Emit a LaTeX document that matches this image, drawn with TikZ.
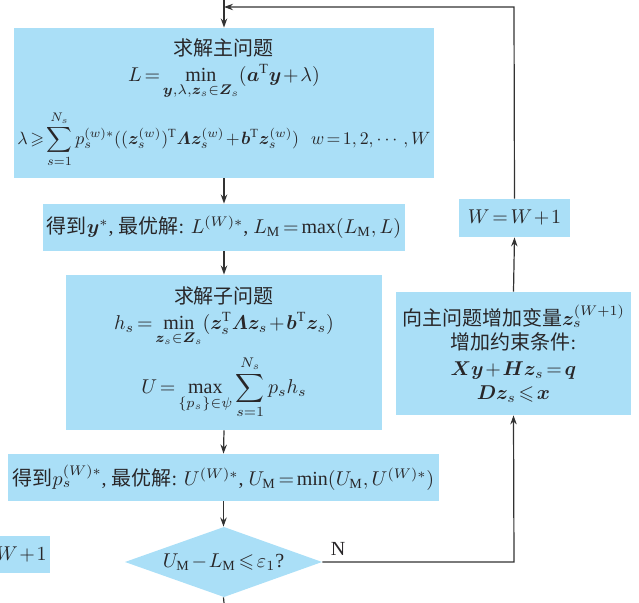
\documentclass[tikz,border=0pt]{standalone}
\usepackage{amsmath,amssymb,bm}
\usepackage{fontspec}
\setmainfont{Liberation Serif}
\newfontfamily\cjk{Noto Sans CJK SC}
\usetikzlibrary{arrows.meta,shapes.geometric}
\newcommand\zh[1]{{\cjk #1}}
\definecolor{boxfill}{RGB}{170,223,247}
\definecolor{ink}{RGB}{40,38,40}
\definecolor{linec}{RGB}{50,50,50}
\tikzset{
  box/.style={rectangle, fill=boxfill, draw=none, inner sep=0pt, align=center, text=ink, font=\fontsize{10}{12}\selectfont},
  anch/.style={rectangle, draw=none, inner sep=0pt, text=ink, font=\fontsize{10}{12}\selectfont},
  arr/.style={draw=linec, line width=0.6pt, -{Stealth[length=4.5pt,width=3.2pt]}},
  ln/.style={draw=linec, line width=0.6pt},
  lbl/.style={text=ink, font=\fontsize{10}{12}\selectfont, inner sep=0pt}
}
\begin{document}
\begin{tikzpicture}[x=0.5pt,y=-0.5pt]
\medmuskip=1.5mu \thickmuskip=2.5mu
\useasboundingbox (0,0) rectangle (639,603);
\clip (0,0) rectangle (639,603);
% boxes
\node[box, minimum width=210pt, minimum height=75pt, text width=208pt] (b1) at (224,103) {%
  \zh{求解主问题}\\[1pt]
  $\displaystyle L=\min_{\bm y,\lambda,\bm z_s\in\bm Z_s}(\bm a^{\mathrm T}\bm y+\lambda)$\\[5pt]
  \scalebox{0.89}{$\displaystyle \lambda\geqslant\sum_{s=1}^{N_s}p_s^{(w)*}((\bm z_s^{(w)})^{\mathrm T}\bm\varLambda\bm z_s^{(w)}+\bm b^{\mathrm T}\bm z_s^{(w)})\ \ w=1,2,\cdots,W$}};
\node[box, minimum width=181pt, minimum height=23.5pt] (b2) at (224,227.5) {%
  \zh{得到}$\bm y^*$, \zh{最优解}: $L^{(W)*}$, $L_{\mathrm M}=\max(L_{\mathrm M},L)$};
\node[box, minimum width=158pt, minimum height=77.5pt] (b3) at (224,352.5) {%
  \zh{求解子问题}\\[1pt]
  $\displaystyle h_s=\min_{\bm z_s\in\bm Z_s}(\bm z_s^{\mathrm T}\bm\varLambda\bm z_s+\bm b^{\mathrm T}\bm z_s)$\\[4pt]
  $\displaystyle U=\max_{\{p_s\}\in\psi}\sum_{s=1}^{N_s}p_sh_s$};
\node[box, minimum width=215.5pt, minimum height=23.5pt] (b4) at (223.5,477.5) {%
  \zh{得到}$p_s^{(W)*}$, \zh{最优解}: $U^{(W)*}$, $U_{\mathrm M}=\min(U_{\mathrm M},U^{(W)*})$};
\fill[boxfill] (125,562) -- (224,527) -- (322,562) -- (224,597) -- cycle;
\node[anch, minimum width=98.5pt, minimum height=35pt] (d) at (223.5,562) {%
  $U_{\mathrm M}-L_{\mathrm M}\leqslant\varepsilon_1$?};
\node[box, minimum width=117.5pt, minimum height=61.5pt] (b5) at (513.5,353.5) {%
  \zh{向主问题增加变量}$\bm z_s^{(W+1)}$\\
  \zh{增加约束条件}:\\[1pt]
  $\bm X\bm y+\bm H\bm z_s=\bm q$\\
  $\bm D\bm z_s\leqslant\bm x$};
\node[box, minimum width=55.5pt, minimum height=19pt] (b6) at (514.5,218) {$W=W+1$};
\node[box, minimum width=50pt, minimum height=18.5pt] (b7) at (0,554.5) {$W=W+1$};
% connectors
\coordinate (top) at (224,0);
\coordinate (tr) at (514,7);
\coordinate (tl) at (224,7);
\coordinate (bot) at (224,603);
\coordinate (br) at (514,562);
\draw[arr] (top) -- (b1.north);
\draw[arr] (b1.south) -- (b2.north);
\draw[arr] (b2.south) -- (b3.north);
\draw[arr] (b3.south) -- (b4.north);
\draw[arr] (b4.south) -- (d.north);
\draw[ln] (d.south) -- (bot);
\draw[arr] (d.east) -- (br) -- (b5.south);
\draw[arr] (b5.north) -- (b6.south);
\draw[arr] (b6.north) -- (tr) -- (tl);
\node[lbl, anchor=south] (n) at (338,556) {N};
\end{tikzpicture}
\end{document}
